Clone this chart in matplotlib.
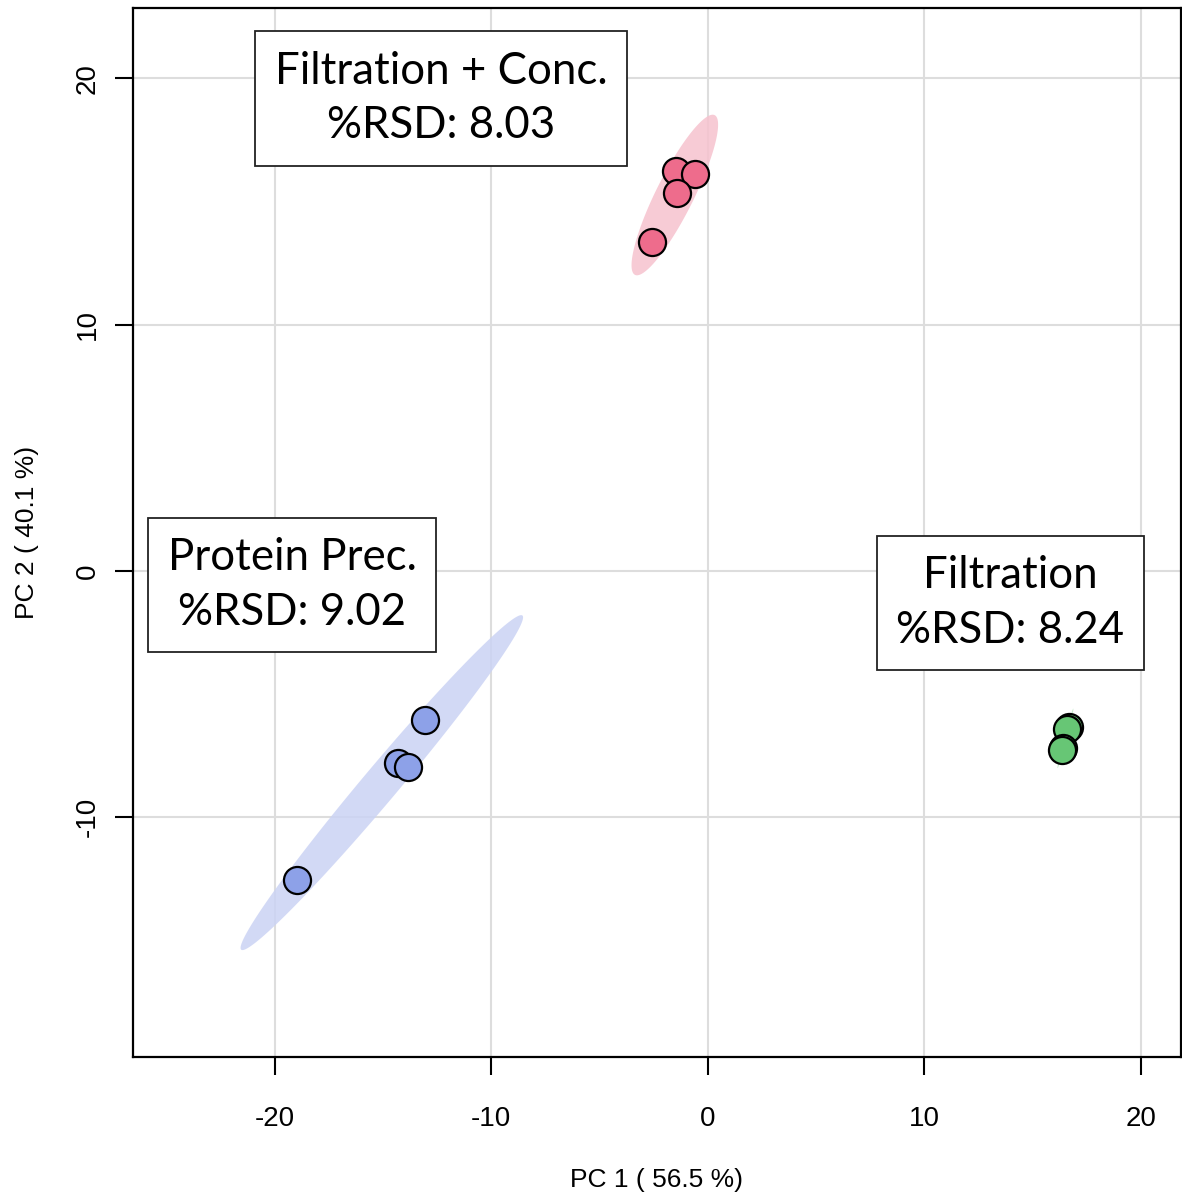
import numpy as np
import matplotlib
matplotlib.use("Agg")
import matplotlib.pyplot as plt

plt.rcParams["axes.unicode_minus"] = False

# PCA scores
fc_x = [-1.48, -0.60, -1.43, -2.59]
fc_y = [16.26, 16.10, 15.35, 13.36]
pp_x = [-13.07, -14.32, -13.86, -18.98]
pp_y = [-6.05, -7.80, -7.96, -12.55]
f_x = [16.68, 16.60, 16.42, 16.36]
f_y = [-6.32, -6.42, -7.18, -7.26]

groups = ["Filtration + Conc.", "Protein Prec.", "Filtration"]
rsd = [8.03, 9.02, 8.24]
pt_colors = ["#EE6C8C", "#8DA1E8", "#67C675"]
ell_colors = ["#F6C2CE", "#CBD3F4", "#BFE8C5"]

xticks = [-20, -10, 0, 10, 20]
yticks = [-10, 0, 10, 20]


def conf_ellipse(x, y, level_chi2=5.991, n=200):
    x = np.asarray(x)
    y = np.asarray(y)
    cov = np.cov(x, y)
    vals, vecs = np.linalg.eigh(cov)
    t = np.linspace(0, 2 * np.pi, n)
    circ = np.vstack([np.cos(t), np.sin(t)])
    pts = vecs @ (np.sqrt(vals * level_chi2)[:, None] * circ)
    return x.mean() + pts[0], y.mean() + pts[1]


fig = plt.figure(figsize=(11.82, 11.93), dpi=100)
ax = fig.add_axes([0.1125, 0.114, 0.8866, 0.8793])

data = [(fc_x, fc_y), (pp_x, pp_y), (f_x, f_y)]
for (xs, ys), ec in zip(data, ell_colors):
    ex, ey = conf_ellipse(xs, ys)
    ax.fill(ex, ey, color=ec, alpha=0.85, lw=0, zorder=2)
for (xs, ys), pc in zip(data, pt_colors):
    ax.scatter(xs, ys, s=380, c=pc, edgecolors="black", linewidths=1.6, zorder=3)

ax.set_xlim(-26.55, 21.85)
ax.set_ylim(-19.73, 22.86)
ax.set_xticks(xticks)
ax.set_yticks(yticks)
ax.grid(True, color="#DDDDDD", lw=1.5)
ax.set_axisbelow(True)
for s in ax.spines.values():
    s.set_linewidth(1.6)
ax.tick_params(direction="out", length=13, width=1.5, labelsize=20)
ax.tick_params(axis="x", pad=22)
ax.tick_params(axis="y", pad=10)
plt.setp(ax.get_yticklabels(), rotation=90, va="center")
ax.set_xlabel("PC 1 ( 56.5 %)", fontsize=19, labelpad=26)
ax.set_ylabel("PC 2 ( 40.1 %)", fontsize=19, labelpad=26)

label_pos = [(0.294, 0.9137), (0.152, 0.450), (0.8373, 0.4328)]
for name, r, (lx, ly) in zip(groups, rsd, label_pos):
    ax.text(lx, ly, f"{name}\n%RSD: {r:.2f}", transform=ax.transAxes,
            ha="center", va="center", fontsize=31.5, family="Lato",
            linespacing=1.4, zorder=5,
            bbox=dict(boxstyle="square,pad=0.45", fc="white", ec="#222222", lw=1.3))

for lab in ax.get_xticklabels() + ax.get_yticklabels():
    lab.set_family("Liberation Sans")
ax.xaxis.label.set_family("Liberation Sans")
ax.yaxis.label.set_family("Liberation Sans")

fig.savefig("out.png", dpi=100)
